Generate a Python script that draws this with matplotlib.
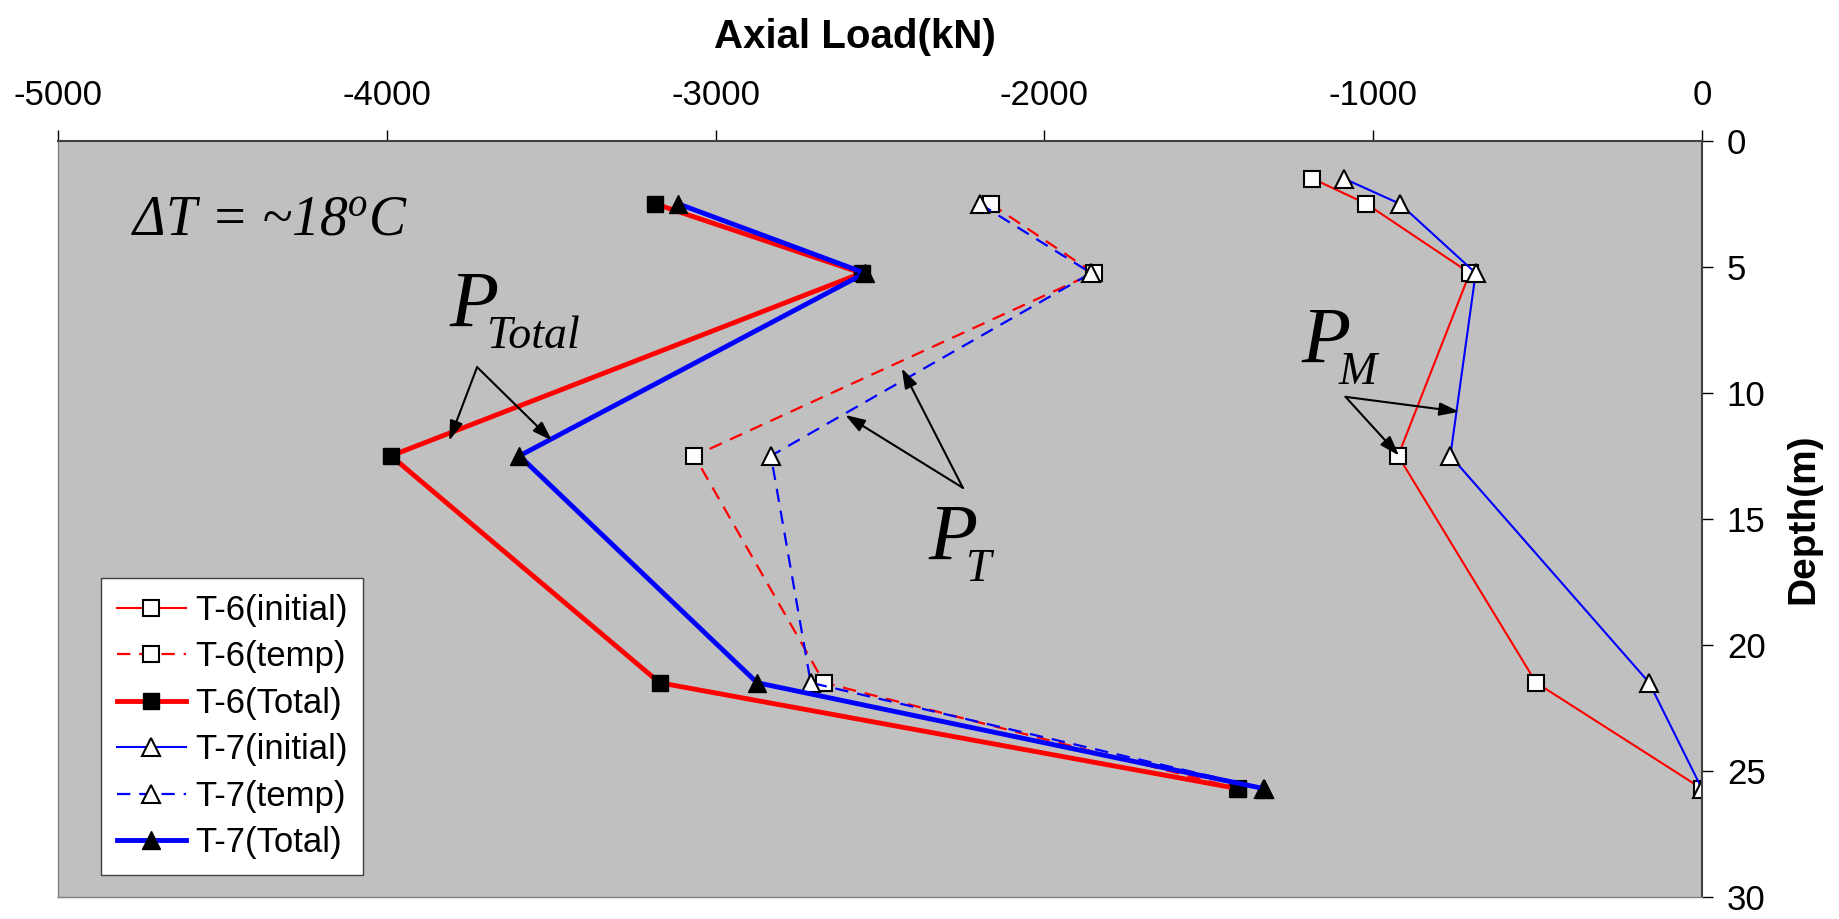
import numpy as np
import matplotlib
matplotlib.use('Agg')
import matplotlib.pyplot as plt

plt.rcParams['font.family'] = 'Liberation Sans'
plt.rcParams['axes.unicode_minus'] = False
plt.rcParams['mathtext.fontset'] = 'custom'
plt.rcParams['mathtext.it'] = 'Liberation Serif:italic'
plt.rcParams['mathtext.rm'] = 'Liberation Serif:italic'

# depth (m) of the gauges; initial readings have one extra shallow gauge
depth_init = [1.5, 2.5, 5.25, 12.5, 21.5, 25.7]
depth = [2.5, 5.25, 12.5, 21.5, 25.7]

# axial load (kN)
t6_initial = [-1185, -1021, -706, -924, -504, 0]
t6_temp = [-2164, -1850, -3065, -2670, -1411]
t6_total = [-3185, -2556, -3988, -3171, -1411]
t7_initial = [-1089, -919, -688, -765, -160, 0]
t7_temp = [-2197, -1858, -2832, -2711, -1332]
t7_total = [-3115, -2546, -3597, -2874, -1332]

x_ticks = [-5000, -4000, -3000, -2000, -1000, 0]
y_ticks = [0, 5, 10, 15, 20, 25, 30]

# annotation text: (subscript, x, y) and arrows (start, tip)
p_labels = [("Total", -3811, 7.39), ("T", -2354, 16.64), ("M", -1219, 8.82)]
arrows = [((-3726, 8.98), (-3811, 11.9)),
          ((-3726, 8.98), (-3498, 11.9)),
          ((-2248, 13.77), (-2434, 9.03)),
          ((-2248, 13.77), (-2606, 10.88)),
          ((-1084, 10.16), (-738, 10.75)),
          ((-1084, 10.16), (-921, 12.49))]

fig = plt.figure(figsize=(18.4, 9.19), dpi=100)
ax = fig.add_axes([0.0317, 0.0239, 0.8932, 0.8230])
ax.set_facecolor('#C0C0C0')

open_mk = dict(mfc='white', mec='black', mew=1.5)
full_mk = dict(mfc='black', mec='black', mew=1.0)
dash = (0, (6, 4))

ax.plot(t6_initial, depth_init, color='red', lw=1.5, marker='s', ms=12, label='T-6(initial)', **open_mk)
ax.plot(t6_temp, depth, color='red', lw=1.6, ls=dash, marker='s', ms=12, label='T-6(temp)', **open_mk)
ax.plot(t6_total, depth, color='red', lw=3.5, marker='s', ms=12, label='T-6(Total)', **full_mk)
ax.plot(t7_initial, depth_init, color='blue', lw=1.5, marker='^', ms=13, label='T-7(initial)', **open_mk)
ax.plot(t7_temp, depth, color='blue', lw=1.6, ls=dash, marker='^', ms=13, label='T-7(temp)', **open_mk)
ax.plot(t7_total, depth, color='blue', lw=3.5, marker='^', ms=13, label='T-7(Total)', **full_mk)

ax.set_xlim(-5000, 0)
ax.set_ylim(30, 0)
ax.xaxis.tick_top()
ax.xaxis.set_label_position('top')
ax.yaxis.tick_right()
ax.yaxis.set_label_position('right')
ax.set_xticks(x_ticks)
ax.set_yticks(y_ticks)
ax.tick_params(direction='out', length=8, width=1, labelsize=25)
ax.tick_params(axis='x', pad=13)
ax.tick_params(axis='y', pad=10)
ax.set_xlabel('Axial Load(kN)', fontsize=29, fontweight='bold', labelpad=22, x=0.485)
ax.set_ylabel('Depth(m)', fontsize=28, fontweight='bold', labelpad=14)

for s in ['top', 'right']:
    ax.spines[s].set_color('#404040')
    ax.spines[s].set_linewidth(1.5)
for s in ['left', 'bottom']:
    ax.spines[s].set_color('#808080')
    ax.spines[s].set_linewidth(1.0)

# temperature note
ax.text(-4779, 3.74, 'ΔT = ~18$^{o}$C', family='Liberation Serif', style='italic',
        fontsize=40, va='baseline')

# P labels with subscripts
for sub, x, y in p_labels:
    ax.text(x, y, 'P', family='Liberation Serif', style='italic', fontsize=58, va='baseline')
    ax.annotate(sub, (x, y), xytext=(27, -15), textcoords='offset points',
                family='Liberation Serif', style='italic', fontsize=33, va='baseline')

for start, tip in arrows:
    ax.annotate('', xy=tip, xytext=start,
                arrowprops=dict(arrowstyle='-|>,head_length=0.6,head_width=0.2', color='black',
                                lw=1.5, shrinkA=0, shrinkB=0, mutation_scale=20))

leg = ax.legend(loc='lower left', bbox_to_anchor=(0.026, 0.029), borderaxespad=0, fontsize=25,
                fancybox=False, edgecolor='#404040', framealpha=1, handlelength=2.0,
                handletextpad=0.25, labelspacing=0.39, borderpad=0.45)
leg.get_frame().set_linewidth(1.0)

plt.savefig('out.png', dpi=100)
